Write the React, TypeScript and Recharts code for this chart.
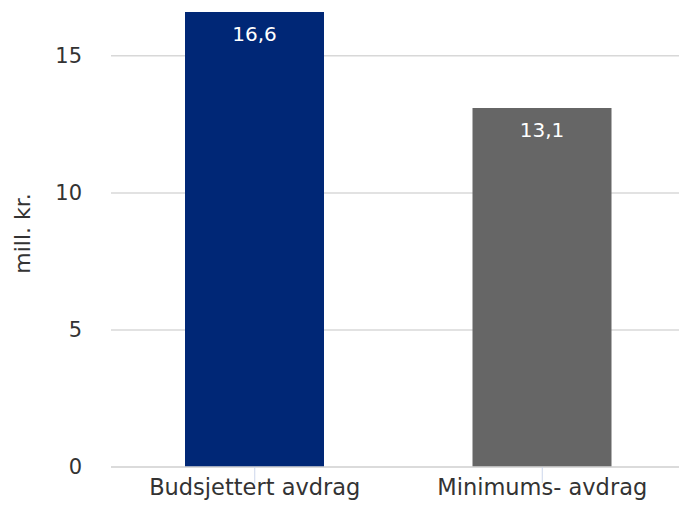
import { BarChart, Bar, XAxis, YAxis, CartesianGrid, LabelList, Cell } from 'recharts';

const categories = ['Budsjettert avdrag', 'Minimums- avdrag'];
const values = [16.6, 13.1];
const barColors = ['#002776', '#666666'];
const yTicks = [0, 5, 10, 15];

const data = categories.map((name, i) => ({ name, value: values[i] }));

const FONT = '"DejaVu Sans", Verdana, sans-serif';

const formatNo = (v: any) => String(v).replace('.', ',');

const YTitle = ({ viewBox }: any) => {
  const cy = viewBox.y + viewBox.height / 2 - 6;
  return (
    <text
      x={22}
      y={cy}
      transform={`rotate(-90, 22, ${cy})`}
      textAnchor="middle"
      dominantBaseline="central"
      fill="#333333"
      fontSize={22}
      fontFamily={FONT}
    >
      mill. kr.
    </text>
  );
};

export default function App() {
  return (
    <div style={{ width: 679, height: 508, overflow: 'hidden', fontFamily: FONT }}>
      <style>{'body { margin: 0; overflow: hidden; }'}</style>
      <BarChart
        width={679}
        height={508}
        data={data}
        margin={{ top: 12, right: -7, left: 0, bottom: 0 }}
      >
        <CartesianGrid
          horizontal
          vertical={false}
          horizontalValues={yTicks}
          stroke="#d8d8d8"
          strokeWidth={1.5}
        />
        <XAxis
          dataKey="name"
          height={41}
          axisLine={{ stroke: '#d8d8d8', strokeWidth: 1.5 }}
          tickLine={{ stroke: '#ccd6eb' }}
          tickSize={16}
          tickMargin={-4}
          interval={0}
          tick={{ fill: '#333333', fontSize: 22.5, fontFamily: FONT }}
        />
        <YAxis
          width={111}
          domain={[0, 16.6]}
          ticks={yTicks}
          axisLine={false}
          tickLine={false}
          tickSize={0}
          tickMargin={29}
          tick={{ fill: '#333333', fontSize: 21, fontFamily: FONT }}
          label={<YTitle />}
        />
        <Bar dataKey="value" barSize={139} isAnimationActive={false}>
          {data.map((d, i) => (
            <Cell key={d.name} fill={barColors[i]} />
          ))}
          <LabelList
            dataKey="value"
            position="insideTop"
            offset={15}
            formatter={formatNo}
            fill="#ffffff"
            fontSize={20}
            fontFamily={FONT}
          />
        </Bar>
      </BarChart>
    </div>
  );
}
